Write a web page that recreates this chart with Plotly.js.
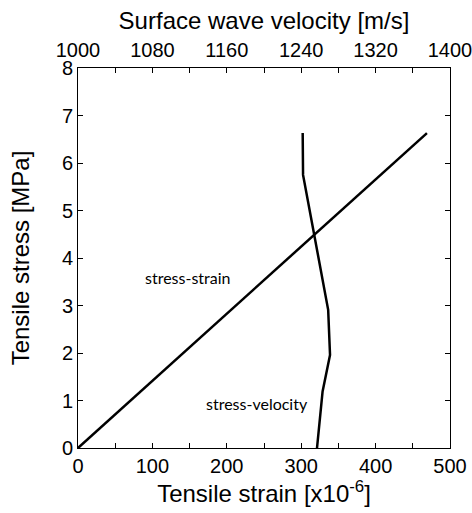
<!DOCTYPE html>
<html>
<head>
<meta charset="utf-8">
<script src="https://cdn.plot.ly/plotly-3.0.1.min.js"></script>
<style>html,body{margin:0;padding:0;background:#fff;}#chart{width:472px;height:513px;}</style>
</head>
<body>
<div id="chart"></div>
<script>
// Stress-strain series (bottom axis)
const strain = [0, 469];
const stressStrain = [0, 6.63];
// Stress-velocity series (top axis)
const velocity = [1257, 1263, 1271, 1269, 1242, 1241.6];
const stressVelocity = [0, 1.19, 1.96, 2.91, 5.75, 6.63];
// Labels
const seriesLabels = ["stress-strain", "stress-velocity"];
const labelX = [148, 241];
const labelY = [3.6, 0.94];

const axisFont = {family: "Liberation Sans, Arial, sans-serif", size: 20, color: "#000"};
const titleFont = {family: "Liberation Sans, Arial, sans-serif", size: 24, color: "#000"};

const traces = [
  {x: strain, y: stressStrain, mode: "lines", line: {color: "#000", width: 2.5}, xaxis: "x", yaxis: "y", name: seriesLabels[0], hoverinfo: "skip"},
  {x: velocity, y: stressVelocity, mode: "lines", line: {color: "#000", width: 2.5}, xaxis: "x2", yaxis: "y", name: seriesLabels[1], hoverinfo: "skip"}
];

const layout = {
  width: 472, height: 513,
  margin: {l: 78, r: 22, t: 68, b: 65},
  paper_bgcolor: "#fff", plot_bgcolor: "#fff",
  showlegend: false,
  xaxis: {
    range: [0, 500], dtick: 100, tick0: 0,
    ticks: "inside", ticklen: 5, tickcolor: "#000", tickwidth: 1,
    minor: {dtick: 50, tick0: 0, ticks: "inside", ticklen: 5, tickcolor: "#000", showgrid: false},
    showline: true, linecolor: "#000", linewidth: 1, mirror: false,
    showgrid: false, zeroline: false,
    tickfont: axisFont,
    ticklabeloverflow: "allow",
    title: {text: "Tensile strain [x10<sup>-6</sup>]", font: titleFont, standoff: 2}
  },
  xaxis2: {
    overlaying: "x", side: "top", anchor: "y",
    range: [1000, 1400], dtick: 80, tick0: 1000,
    ticks: "inside", ticklen: 5, tickcolor: "#000", tickwidth: 1,
    minor: {dtick: 40, tick0: 1000, ticks: "inside", ticklen: 5, tickcolor: "#000", showgrid: false},
    showline: true, linecolor: "#000", linewidth: 1,
    showgrid: false, zeroline: false,
    tickfont: axisFont,
    ticklabeloverflow: "allow",
    ticklabelstandoff: 2,
    title: {text: "Surface wave velocity [m/s]", font: titleFont, standoff: 2}
  },
  yaxis: {
    range: [0, 8], dtick: 1, tick0: 0,
    ticks: "inside", ticklen: 5, tickcolor: "#000", tickwidth: 1,
    showline: true, linecolor: "#000", linewidth: 1, mirror: "ticks",
    showgrid: false, zeroline: false,
    tickfont: axisFont,
    title: {text: "Tensile stress [MPa]", font: titleFont, standoff: 25}
  },
  annotations: [
    {x: labelX[0], y: labelY[0], xref: "x", yref: "y", text: seriesLabels[0], showarrow: false, font: {family: "Lato, sans-serif", size: 16, color: "#000"}},
    {x: labelX[1], y: labelY[1], xref: "x", yref: "y", text: seriesLabels[1], showarrow: false, font: {family: "Lato, sans-serif", size: 16, color: "#000"}}
  ]
};

Plotly.newPlot("chart", traces, layout, {staticPlot: true, displayModeBar: false});
</script>
</body>
</html>
